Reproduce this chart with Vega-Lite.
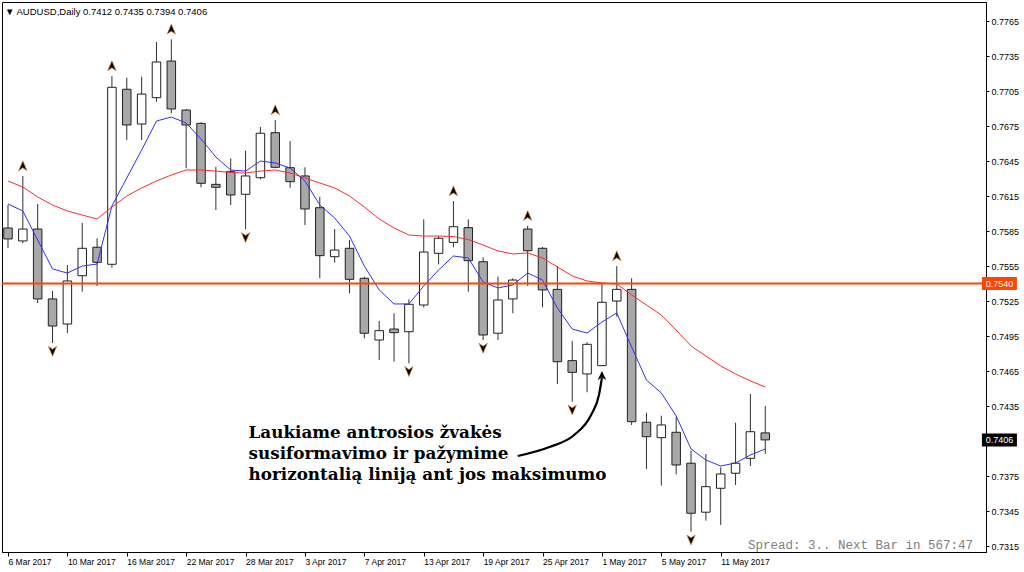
{
  "$schema": "https://vega.github.io/schema/vega-lite/v6.json",
  "width": 984,
  "height": 550,
  "autosize": {"type": "none"},
  "padding": {"left": 2, "top": 2, "right": 38, "bottom": 20},
  "background": "#ffffff",
  "config": {
    "view": {"stroke": "#000000", "strokeWidth": 1},
    "font": "Liberation Sans",
    "axis": {"labelColor": "#000000", "tickColor": "#000000", "domainColor": "#000000", "grid": false, "labelFont": "Liberation Sans", "title": null, "labelOverlap": false}
  },
  "title": {"text": "▼ AUDUSD,Daily  0.7412 0.7435 0.7394 0.7406", "anchor": "start", "frame": "group", "offset": -14, "dx": 3, "fontSize": 9.5, "fontWeight": "normal", "font": "Liberation Sans", "color": "#000000"},
  "datasets": {
    "candles": [
      {"i": 0, "date": "2017-03-06", "open": 0.75876, "high": 0.76073, "low": 0.75705, "close": 0.75782, "ma_fast": 0.76082, "ma_slow": 0.76279, "fractal": ""},
      {"i": 1, "date": "2017-03-07", "open": 0.75765, "high": 0.76322, "low": 0.75747, "close": 0.75867, "ma_fast": 0.76022, "ma_slow": 0.76227, "fractal": "up"},
      {"i": 2, "date": "2017-03-08", "open": 0.75867, "high": 0.76082, "low": 0.75233, "close": 0.75268, "ma_fast": 0.75773, "ma_slow": 0.76142, "fractal": ""},
      {"i": 3, "date": "2017-03-09", "open": 0.75268, "high": 0.75336, "low": 0.7489, "close": 0.75036, "ma_fast": 0.75525, "ma_slow": 0.76073, "fractal": "down"},
      {"i": 4, "date": "2017-03-10", "open": 0.75053, "high": 0.75559, "low": 0.74976, "close": 0.75422, "ma_fast": 0.7549, "ma_slow": 0.76022, "fractal": ""},
      {"i": 5, "date": "2017-03-13", "open": 0.75467, "high": 0.75921, "low": 0.7533, "close": 0.75702, "ma_fast": 0.7555, "ma_slow": 0.75987, "fractal": ""},
      {"i": 6, "date": "2017-03-14", "open": 0.75711, "high": 0.75788, "low": 0.75379, "close": 0.75582, "ma_fast": 0.75567, "ma_slow": 0.75953, "fractal": ""},
      {"i": 7, "date": "2017-03-15", "open": 0.75565, "high": 0.77179, "low": 0.75536, "close": 0.77082, "ma_fast": 0.76065, "ma_slow": 0.76056, "fractal": "up"},
      {"i": 8, "date": "2017-03-16", "open": 0.77065, "high": 0.77164, "low": 0.7663, "close": 0.76759, "ma_fast": 0.76305, "ma_slow": 0.7615, "fractal": ""},
      {"i": 9, "date": "2017-03-17", "open": 0.76767, "high": 0.77173, "low": 0.7663, "close": 0.77024, "ma_fast": 0.76544, "ma_slow": 0.76219, "fractal": ""},
      {"i": 10, "date": "2017-03-20", "open": 0.76993, "high": 0.7747, "low": 0.76958, "close": 0.77299, "ma_fast": 0.76793, "ma_slow": 0.76279, "fractal": ""},
      {"i": 11, "date": "2017-03-21", "open": 0.77307, "high": 0.77493, "low": 0.76859, "close": 0.76896, "ma_fast": 0.76827, "ma_slow": 0.7633, "fractal": "up"},
      {"i": 12, "date": "2017-03-22", "open": 0.76887, "high": 0.76896, "low": 0.76388, "close": 0.76759, "ma_fast": 0.76776, "ma_slow": 0.76373, "fractal": ""},
      {"i": 13, "date": "2017-03-23", "open": 0.76773, "high": 0.76782, "low": 0.76225, "close": 0.76259, "ma_fast": 0.76639, "ma_slow": 0.76373, "fractal": ""},
      {"i": 14, "date": "2017-03-24", "open": 0.7625, "high": 0.76401, "low": 0.7603, "close": 0.76225, "ma_fast": 0.76484, "ma_slow": 0.76364, "fractal": ""},
      {"i": 15, "date": "2017-03-27", "open": 0.76359, "high": 0.76473, "low": 0.76073, "close": 0.76159, "ma_fast": 0.76373, "ma_slow": 0.76352, "fractal": ""},
      {"i": 16, "date": "2017-03-28", "open": 0.76165, "high": 0.76538, "low": 0.75865, "close": 0.76322, "ma_fast": 0.76364, "ma_slow": 0.76347, "fractal": "down"},
      {"i": 17, "date": "2017-03-29", "open": 0.76307, "high": 0.76742, "low": 0.76293, "close": 0.76688, "ma_fast": 0.7645, "ma_slow": 0.76364, "fractal": ""},
      {"i": 18, "date": "2017-03-30", "open": 0.76693, "high": 0.76802, "low": 0.76388, "close": 0.76396, "ma_fast": 0.76433, "ma_slow": 0.76373, "fractal": "up"},
      {"i": 19, "date": "2017-03-31", "open": 0.76393, "high": 0.76622, "low": 0.76221, "close": 0.76273, "ma_fast": 0.7639, "ma_slow": 0.76347, "fractal": ""},
      {"i": 20, "date": "2017-04-03", "open": 0.76322, "high": 0.76396, "low": 0.75902, "close": 0.76039, "ma_fast": 0.76279, "ma_slow": 0.76305, "fractal": ""},
      {"i": 21, "date": "2017-04-04", "open": 0.7605, "high": 0.76144, "low": 0.75445, "close": 0.75639, "ma_fast": 0.76073, "ma_slow": 0.76262, "fractal": ""},
      {"i": 22, "date": "2017-04-05", "open": 0.7563, "high": 0.75867, "low": 0.75579, "close": 0.75687, "ma_fast": 0.75962, "ma_slow": 0.76219, "fractal": ""},
      {"i": 23, "date": "2017-04-06", "open": 0.75702, "high": 0.75773, "low": 0.75316, "close": 0.75436, "ma_fast": 0.75807, "ma_slow": 0.7615, "fractal": ""},
      {"i": 24, "date": "2017-04-07", "open": 0.75445, "high": 0.75459, "low": 0.74931, "close": 0.74974, "ma_fast": 0.7555, "ma_slow": 0.76056, "fractal": ""},
      {"i": 25, "date": "2017-04-10", "open": 0.74916, "high": 0.75079, "low": 0.74745, "close": 0.74996, "ma_fast": 0.75345, "ma_slow": 0.75953, "fractal": ""},
      {"i": 26, "date": "2017-04-11", "open": 0.7501, "high": 0.75145, "low": 0.7473, "close": 0.74979, "ma_fast": 0.75225, "ma_slow": 0.75876, "fractal": ""},
      {"i": 27, "date": "2017-04-12", "open": 0.74987, "high": 0.75265, "low": 0.74716, "close": 0.75222, "ma_fast": 0.75225, "ma_slow": 0.75816, "fractal": "down"},
      {"i": 28, "date": "2017-04-13", "open": 0.75216, "high": 0.7595, "low": 0.75196, "close": 0.7567, "ma_fast": 0.75379, "ma_slow": 0.75807, "fractal": ""},
      {"i": 29, "date": "2017-04-14", "open": 0.75659, "high": 0.75807, "low": 0.75565, "close": 0.75788, "ma_fast": 0.75516, "ma_slow": 0.75807, "fractal": ""},
      {"i": 30, "date": "2017-04-17", "open": 0.75753, "high": 0.76107, "low": 0.75711, "close": 0.75887, "ma_fast": 0.75636, "ma_slow": 0.75803, "fractal": "up"},
      {"i": 31, "date": "2017-04-18", "open": 0.75879, "high": 0.7595, "low": 0.7533, "close": 0.75596, "ma_fast": 0.75619, "ma_slow": 0.75777, "fractal": ""},
      {"i": 32, "date": "2017-04-19", "open": 0.75587, "high": 0.75625, "low": 0.74916, "close": 0.74959, "ma_fast": 0.75413, "ma_slow": 0.7573, "fractal": "down"},
      {"i": 33, "date": "2017-04-20", "open": 0.74974, "high": 0.75459, "low": 0.74916, "close": 0.75259, "ma_fast": 0.75362, "ma_slow": 0.75679, "fractal": ""},
      {"i": 34, "date": "2017-04-21", "open": 0.75268, "high": 0.75445, "low": 0.75145, "close": 0.7543, "ma_fast": 0.75388, "ma_slow": 0.75653, "fractal": ""},
      {"i": 35, "date": "2017-04-24", "open": 0.75867, "high": 0.75895, "low": 0.75379, "close": 0.75681, "ma_fast": 0.7549, "ma_slow": 0.75662, "fractal": "up"},
      {"i": 36, "date": "2017-04-25", "open": 0.75702, "high": 0.75713, "low": 0.75196, "close": 0.75345, "ma_fast": 0.7543, "ma_slow": 0.75619, "fractal": ""},
      {"i": 37, "date": "2017-04-26", "open": 0.7535, "high": 0.7555, "low": 0.74539, "close": 0.7473, "ma_fast": 0.7519, "ma_slow": 0.75542, "fractal": ""},
      {"i": 38, "date": "2017-04-27", "open": 0.74739, "high": 0.74908, "low": 0.74387, "close": 0.74639, "ma_fast": 0.7501, "ma_slow": 0.75465, "fractal": "down"},
      {"i": 39, "date": "2017-04-28", "open": 0.74625, "high": 0.74896, "low": 0.74468, "close": 0.74879, "ma_fast": 0.74976, "ma_slow": 0.75422, "fractal": ""},
      {"i": 40, "date": "2017-05-01", "open": 0.74696, "high": 0.75396, "low": 0.74693, "close": 0.75239, "ma_fast": 0.7507, "ma_slow": 0.75405, "fractal": ""},
      {"i": 41, "date": "2017-05-02", "open": 0.7525, "high": 0.7555, "low": 0.75116, "close": 0.7535, "ma_fast": 0.75148, "ma_slow": 0.75396, "fractal": "up"},
      {"i": 42, "date": "2017-05-03", "open": 0.7535, "high": 0.75445, "low": 0.74188, "close": 0.74216, "ma_fast": 0.74856, "ma_slow": 0.75302, "fractal": ""},
      {"i": 43, "date": "2017-05-04", "open": 0.74211, "high": 0.74293, "low": 0.73811, "close": 0.74087, "ma_fast": 0.74573, "ma_slow": 0.75216, "fractal": ""},
      {"i": 44, "date": "2017-05-05", "open": 0.74079, "high": 0.74267, "low": 0.73668, "close": 0.74188, "ma_fast": 0.74462, "ma_slow": 0.7513, "fractal": ""},
      {"i": 45, "date": "2017-05-08", "open": 0.74125, "high": 0.74259, "low": 0.73765, "close": 0.73845, "ma_fast": 0.74265, "ma_slow": 0.75002, "fractal": ""},
      {"i": 46, "date": "2017-05-09", "open": 0.7386, "high": 0.73967, "low": 0.73273, "close": 0.73431, "ma_fast": 0.73982, "ma_slow": 0.74865, "fractal": "down"},
      {"i": 47, "date": "2017-05-10", "open": 0.7344, "high": 0.73939, "low": 0.73368, "close": 0.73659, "ma_fast": 0.73888, "ma_slow": 0.74779, "fractal": ""},
      {"i": 48, "date": "2017-05-11", "open": 0.73645, "high": 0.73825, "low": 0.73331, "close": 0.73768, "ma_fast": 0.73836, "ma_slow": 0.74693, "fractal": ""},
      {"i": 49, "date": "2017-05-12", "open": 0.73774, "high": 0.74207, "low": 0.73674, "close": 0.7386, "ma_fast": 0.73862, "ma_slow": 0.74625, "fractal": ""},
      {"i": 50, "date": "2017-05-15", "open": 0.73902, "high": 0.74453, "low": 0.73836, "close": 0.7413, "ma_fast": 0.73931, "ma_slow": 0.74565, "fractal": ""},
      {"i": 51, "date": "2017-05-16", "open": 0.7412, "high": 0.7435, "low": 0.7394, "close": 0.7406, "ma_fast": 0.73982, "ma_slow": 0.74513, "fractal": ""}
    ],
    "level": [{"price": 0.754, "label": "0.7540"}],
    "last": [{"price": 0.7406, "label": "0.7406"}],
    "arrow": [
      {"i": 34.33, "price": 0.73922},
      {"i": 36.47, "price": 0.73999},
      {"i": 38.13, "price": 0.74102},
      {"i": 39.27, "price": 0.74273},
      {"i": 39.8, "price": 0.74445},
      {"i": 40.0, "price": 0.7459}
    ],
    "arrowhead": [{"i": 40.0, "price": 0.7461}],
    "note": [{"text": ["Laukiame antrosios žvakės", "susiformavimo ir pažymime", "horizontalią liniją ant jos maksimumo"]}],
    "status": [{"text": "Spread: 3.. Next Bar in 567:47"}]
  },
  "data": {"name": "candles"},
  "layer": [
    {
      "mark": {"type": "rule", "color": "#303030", "strokeWidth": 1},
      "encoding": {
        "x": {"field": "i", "type": "quantitative", "scale": {"domain": [-0.0667, 65.53], "nice": false, "zero": false},
          "axis": {"values": [0, 4, 8, 12, 16, 20, 24, 28, 32, 36, 40, 44, 48], "tickCount": 40, "labelExpr": "['6 Mar 2017','10 Mar 2017','16 Mar 2017','22 Mar 2017','28 Mar 2017','3 Apr 2017','7 Apr 2017','13 Apr 2017','19 Apr 2017','25 Apr 2017','1 May 2017','5 May 2017','11 May 2017'][round(datum.value/4)]", "tickSize": 4, "labelFontSize": 8.5, "labelAlign": "left", "labelPadding": 1, "labelOverlap": false, "labelFlush": false, "title": null, "zindex": 0}},
        "y": {"field": "low", "type": "quantitative", "scale": {"domain": [0.73099, 0.77813], "nice": false, "zero": false},
          "axis": {"orient": "right", "values": [0.7315, 0.7345, 0.7375, 0.7435, 0.7465, 0.7495, 0.7525, 0.7555, 0.7585, 0.7615, 0.7645, 0.7675, 0.7705, 0.7735, 0.7765], "tickCount": 40, "format": ".4f", "tickSize": 3, "labelPadding": 2, "labelFontSize": 9, "labelOverlap": false, "labelFlush": false, "title": null, "zindex": 0}},
        "y2": {"field": "high"}
      }
    },
    {
      "mark": {"type": "bar", "size": 8.5, "stroke": "#202020", "strokeWidth": 1},
      "encoding": {
        "x": {"field": "i", "type": "quantitative", "scale": {"domain": [-0.0667, 65.53], "nice": false, "zero": false}},
        "y": {"field": "open", "type": "quantitative", "scale": {"domain": [0.73099, 0.77813], "nice": false, "zero": false}},
        "y2": {"field": "close"},
        "fill": {"condition": {"test": "datum.close > datum.open", "value": "#ffffff"}, "value": "#a8a8a8"}
      }
    },
    {
      "mark": {"type": "line", "color": "#ff2b2b", "strokeWidth": 1},
      "encoding": {
        "x": {"field": "i", "type": "quantitative", "scale": {"domain": [-0.0667, 65.53], "nice": false, "zero": false}},
        "y": {"field": "ma_slow", "type": "quantitative", "scale": {"domain": [0.73099, 0.77813], "nice": false, "zero": false}}
      }
    },
    {
      "mark": {"type": "line", "color": "#3030ff", "strokeWidth": 1},
      "encoding": {
        "x": {"field": "i", "type": "quantitative", "scale": {"domain": [-0.0667, 65.53], "nice": false, "zero": false}},
        "y": {"field": "ma_fast", "type": "quantitative", "scale": {"domain": [0.73099, 0.77813], "nice": false, "zero": false}}
      }
    },
    {
      "transform": [{"filter": "datum.fractal == 'up'"}],
      "mark": {"type": "point", "shape": "M0,-1L0.8,0.9L0,0.35L-0.8,0.9Z", "filled": true, "color": "#000000", "stroke": "#e08a3c", "strokeWidth": 0.7, "size": 110, "yOffset": -10, "opacity": 1},
      "encoding": {
        "x": {"field": "i", "type": "quantitative", "scale": {"domain": [-0.0667, 65.53], "nice": false, "zero": false}},
        "y": {"field": "high", "type": "quantitative", "scale": {"domain": [0.73099, 0.77813], "nice": false, "zero": false}}
      }
    },
    {
      "transform": [{"filter": "datum.fractal == 'down'"}],
      "mark": {"type": "point", "shape": "M0,1L0.8,-0.9L0,-0.35L-0.8,-0.9Z", "filled": true, "color": "#000000", "stroke": "#e08a3c", "strokeWidth": 0.7, "size": 110, "yOffset": 8, "opacity": 1},
      "encoding": {
        "x": {"field": "i", "type": "quantitative", "scale": {"domain": [-0.0667, 65.53], "nice": false, "zero": false}},
        "y": {"field": "low", "type": "quantitative", "scale": {"domain": [0.73099, 0.77813], "nice": false, "zero": false}}
      }
    },
    {
      "data": {"name": "level"},
      "mark": {"type": "rule", "color": "#ff4500", "strokeWidth": 2},
      "encoding": {
        "y": {"field": "price", "type": "quantitative", "scale": {"domain": [0.73099, 0.77813], "nice": false, "zero": false}}
      }
    },
    {
      "data": {"name": "level"},
      "mark": {"type": "tick", "orient": "horizontal", "color": "#ff4500", "size": 35, "thickness": 13, "opacity": 1},
      "encoding": {
        "x": {"datum": 66.77, "type": "quantitative", "scale": {"domain": [-0.0667, 65.53], "nice": false, "zero": false}},
        "y": {"field": "price", "type": "quantitative", "scale": {"domain": [0.73099, 0.77813], "nice": false, "zero": false}}
      }
    },
    {
      "data": {"name": "level"},
      "mark": {"type": "text", "color": "#ffffff", "fontSize": 9, "font": "Liberation Sans", "align": "center", "baseline": "middle"},
      "encoding": {
        "x": {"datum": 66.77, "type": "quantitative", "scale": {"domain": [-0.0667, 65.53], "nice": false, "zero": false}},
        "y": {"field": "price", "type": "quantitative", "scale": {"domain": [0.73099, 0.77813], "nice": false, "zero": false}},
        "text": {"field": "label"}
      }
    },
    {
      "data": {"name": "last"},
      "mark": {"type": "tick", "orient": "horizontal", "color": "#000000", "size": 35, "thickness": 13, "opacity": 1},
      "encoding": {
        "x": {"datum": 66.77, "type": "quantitative", "scale": {"domain": [-0.0667, 65.53], "nice": false, "zero": false}},
        "y": {"field": "price", "type": "quantitative", "scale": {"domain": [0.73099, 0.77813], "nice": false, "zero": false}}
      }
    },
    {
      "data": {"name": "last"},
      "mark": {"type": "text", "color": "#ffffff", "fontSize": 9, "font": "Liberation Sans", "align": "center", "baseline": "middle"},
      "encoding": {
        "x": {"datum": 66.77, "type": "quantitative", "scale": {"domain": [-0.0667, 65.53], "nice": false, "zero": false}},
        "y": {"field": "price", "type": "quantitative", "scale": {"domain": [0.73099, 0.77813], "nice": false, "zero": false}},
        "text": {"field": "label"}
      }
    },
    {
      "data": {"name": "arrow"},
      "mark": {"type": "line", "color": "#000000", "strokeWidth": 2.2, "interpolate": "monotone"},
      "encoding": {
        "x": {"field": "i", "type": "quantitative", "scale": {"domain": [-0.0667, 65.53], "nice": false, "zero": false}},
        "y": {"field": "price", "type": "quantitative", "scale": {"domain": [0.73099, 0.77813], "nice": false, "zero": false}}
      }
    },
    {
      "data": {"name": "arrowhead"},
      "mark": {"type": "point", "shape": "M0,-1L0.9,0.9L0,0.4L-0.9,0.9Z", "filled": true, "color": "#000000", "size": 90, "opacity": 1},
      "encoding": {
        "x": {"field": "i", "type": "quantitative", "scale": {"domain": [-0.0667, 65.53], "nice": false, "zero": false}},
        "y": {"field": "price", "type": "quantitative", "scale": {"domain": [0.73099, 0.77813], "nice": false, "zero": false}}
      }
    },
    {
      "data": {"name": "note"},
      "mark": {"type": "text", "font": "DejaVu Serif", "fontWeight": "bold", "fontSize": 16.8, "lineHeight": 21, "align": "left", "baseline": "top", "color": "#000000"},
      "encoding": {
        "x": {"datum": 16.2, "type": "quantitative", "scale": {"domain": [-0.0667, 65.53], "nice": false, "zero": false}},
        "y": {"datum": 0.74185, "type": "quantitative", "scale": {"domain": [0.73099, 0.77813], "nice": false, "zero": false}},
        "text": {"field": "text"}
      }
    },
    {
      "data": {"name": "status"},
      "mark": {"type": "text", "font": "Liberation Mono", "fontSize": 12.5, "align": "right", "baseline": "middle", "color": "#808080"},
      "encoding": {
        "x": {"datum": 65.0, "type": "quantitative", "scale": {"domain": [-0.0667, 65.53], "nice": false, "zero": false}},
        "y": {"datum": 0.73162, "type": "quantitative", "scale": {"domain": [0.73099, 0.77813], "nice": false, "zero": false}},
        "text": {"field": "text"}
      }
    }
  ]
}
